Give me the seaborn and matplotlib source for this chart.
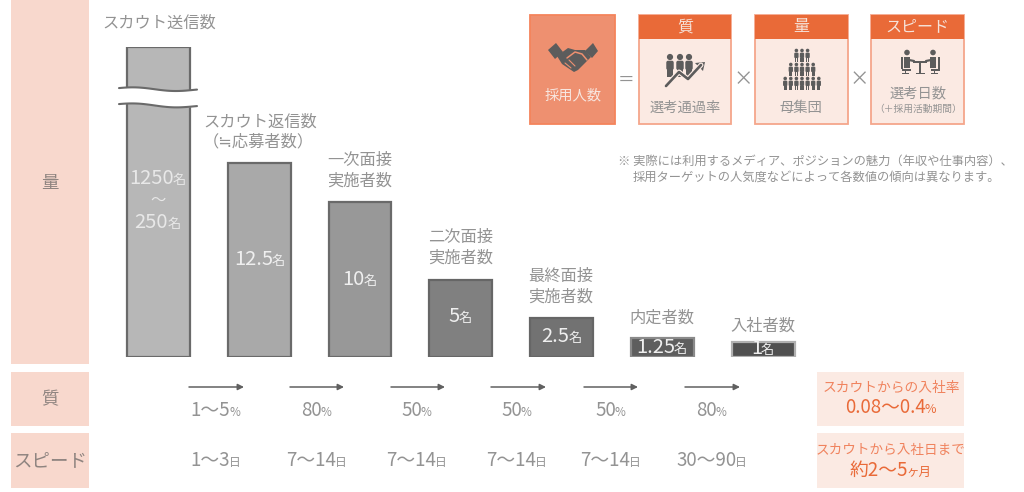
import numpy as np
import pandas as pd
import matplotlib.pyplot as plt
import seaborn as sns
from matplotlib.patches import Rectangle, Circle, Polygon, FancyBboxPatch

sns.set_theme(style="white")
plt.rcParams["font.family"] = ["Noto Sans CJK JP", "DejaVu Sans"]

# data
stages = ["スカウト送信数", "スカウト返信数", "一次面接", "二次面接", "最終面接", "内定者数", "入社者数"]
# first bar is cut by the break mark, so 20 is only its drawn height
bar_heights = [20.0, 12.5, 10.0, 5.0, 2.5, 1.25, 1.0]
bar_colors = ["#b7b7b7", "#a9a9a9", "#989898", "#808080", "#727272", "#5e5e5e", "#505050"]
edge_colors = ["#6a6a6a", "#6a6a6a", "#6a6a6a", "#666666", "#666666", "#8a8a8a", "#b0b0b0"]
value_labels = ["12.5", "10", "5", "2.5", "1.25", "1"]
pass_rates = ["1〜5", "80", "50", "50", "50", "80"]
lead_days = ["1〜3", "7〜14", "7〜14", "7〜14", "7〜14", "30〜90"]

GRAY = "#939393"
DARK = "#5c5c5c"
ORANGE = "#e96a38"
SOFT = "#fbeae3"
TEXT_DY = 1.8  # CJK glyphs sit a little high with va=center

fig = plt.figure(figsize=(10.24, 4.92), dpi=100)

# ==========================
# BARS
# ==========================
bar_left, bar_right, bar_base, bar_top = 108.1, 813.4, 357.0, 47.0
ax = fig.add_axes([bar_left / 1024, 1 - bar_base / 492,
                   (bar_right - bar_left) / 1024, (bar_base - bar_top) / 492])
df = pd.DataFrame({"stage": stages, "height": bar_heights})
sns.barplot(data=df, x="stage", y="height", hue="stage", palette=bar_colors,
            width=0.625, legend=False, ax=ax, saturation=1)
for patch, edge in zip(ax.patches, edge_colors):
    patch.set_edgecolor(edge)
    patch.set_linewidth(1.6)
ax.set_xlim(-0.5, 6.5)
ax.set_ylim(0, 20)
ax.axis("off")

# ==========================
# OVERLAY IN PIXEL COORDS
# ==========================
ov = fig.add_axes([0, 0, 1, 1], zorder=5)
ov.set_xlim(0, 1024)
ov.set_ylim(492, 0)
ov.axis("off")
ov.patch.set_alpha(0)


def label(x, y, s, size=11.7, color=GRAY, **kw):
    return ov.text(x, y + TEXT_DY, s, fontsize=size, color=color, ha="center", va="center", **kw)


def mixed(x, y, big, small, size=14.5, small_size=9.5, color=GRAY):
    # number with a smaller unit after it, centred as one piece
    r = fig.canvas.get_renderer()
    t1 = ov.text(x, y + TEXT_DY, big, fontsize=size, color=color, ha="left", va="center")
    t2 = ov.text(x, y + TEXT_DY + 1.5, small, fontsize=small_size, color=color, ha="left", va="center")
    w1 = t1.get_window_extent(r).width
    w2 = t2.get_window_extent(r).width
    t1.set_x(x - (w1 + w2) / 2)
    t2.set_x(x - (w1 + w2) / 2 + w1 - 1)


def box(x0, y0, x1, y1, fc, ec="none", lw=0):
    ov.add_patch(Rectangle((x0, y0), x1 - x0, y1 - y0, fc=fc, ec=ec, lw=lw))


def person(x, y, s=1.0, color=DARK):
    ov.add_patch(Circle((x, y), 2.0 * s, fc=color, ec="none"))
    ov.add_patch(FancyBboxPatch((x - 2.4 * s, y + 2.4 * s), 4.8 * s, 6.0 * s,
                                boxstyle=f"round,pad=0,rounding_size={1.2 * s}",
                                fc=color, ec="none"))
    ov.add_patch(Rectangle((x - 1.8 * s, y + 8 * s), 1.6 * s, 4.8 * s, fc=color, ec="none"))
    ov.add_patch(Rectangle((x + 0.2 * s, y + 8 * s), 1.6 * s, 4.8 * s, fc=color, ec="none"))


# left and right bands
box(11, 0, 89, 364, "#f8d8cd")
box(11, 372, 89, 426, "#f8d8cd")
box(11, 433, 89, 488, "#f8d8cd")
label(50, 181, "量", 12.5, "#8f8480")
label(50, 397, "質", 12.5, "#8f8480")
label(50, 459, "スピード", 13.3, "#8f8480")
box(817, 372, 964, 426, SOFT)
box(817, 433, 964, 488, SOFT)
label(891, 386, "スカウトからの入社率", 9.9, "#f0835e")
mixed(891, 406, "0.08〜0.4", "%", 13.5, 9, ORANGE)
label(891, 448, "スカウトから入社日まで", 9.8, "#f0835e")
mixed(891, 469, "約2〜5", "ヶ月", 13.5, 9, ORANGE)

# break mark on the first bar
xs = np.linspace(119, 197, 60)
wave = 1.8 * np.sin((xs - 119) / 78 * 2 * np.pi + 0.3) * -1
upper = 88.5 + (xs - 119) / 78 * 1.5 + wave * 0.8
lower = 104.5 + (xs - 119) / 78 * 2 + wave * 0.8
ov.fill_between(xs, upper, lower, color="white", lw=0)
ov.plot(xs, upper, color="#6a6a6a", lw=1.5)
ov.plot(xs, lower, color="#6a6a6a", lw=1.5)

# stage titles
label(159, 21, "スカウト送信数")
label(260, 120, "スカウト返信数")
label(258, 140, "（≒応募者数）")
label(360, 159, "一次面接")
label(360, 179, "実施者数")
label(461, 236, "二次面接")
label(461, 256, "実施者数")
label(561, 275, "最終面接")
label(561, 295, "実施者数")
label(662, 316, "内定者数")
label(763, 324, "入社者数")

# values inside the bars
mixed(158, 177, "1250", "名", color="#e8e8e8")
label(158, 199, "〜", 11, "#e8e8e8")
mixed(158, 221, "250", "名", color="#e8e8e8")
value_y = [258, 278, 315, 335, 346, 347]
value_x = [260, 360, 461, 562, 662, 763]
for x, y, v in zip(value_x, value_y, value_labels):
    mixed(x, y, v, "名", color="#efefef")

# arrows and rates under the bars
arrow_x = [(189, 244), (290, 344), (391, 445), (491, 546), (584, 638), (685, 740)]
text_x = [216, 317, 417, 517, 611, 712]
for (x0, x1), tx, rate, days in zip(arrow_x, text_x, pass_rates, lead_days):
    ov.annotate("", xy=(x1, 387), xytext=(x0, 387),
                arrowprops=dict(arrowstyle="-|>", color="#606060", lw=1.1,
                                shrinkA=0, shrinkB=0, mutation_scale=9))
    mixed(tx, 409, rate, "%", 13.5, 8.5)
    mixed(tx, 459, days, "日", 13.5, 8.5)

# ==========================
# FORMULA BOXES
# ==========================
box(530, 15, 615, 124, "#ee9070", "#f4845c", 1.3)
for x0, x1, head, size in [(639, 731, "質", 11.5), (755, 848, "量", 11.5), (871, 964, "スピード", 11.5)]:
    box(x0, 15, x1, 124, SOFT, "#f5a68b", 1.3)
    box(x0, 15, x1, 39, ORANGE)
    label((x0 + x1) / 2, 25, head, size, "#f6e3da")

label(626, 79, "＝", 12)
label(743, 78, "×", 14)
label(859, 78, "×", 14)
label(573, 94, "採用人数", 10.3, "#f8e6df")
label(685, 106, "選考通過率", 10.3)
label(801, 106, "母集団", 10.3)
label(918, 92, "選考日数", 10.3)
label(918, 107, "（＋採用活動期間）", 7)

note = ("※ 実際には利用するメディア、ポジションの魅力（年収や仕事内容）、",
        "採用ターゲットの人気度などによって各数値の傾向は異なります。")
ov.text(618, 161, note[0], fontsize=8.85, color=GRAY, ha="left", va="center")
ov.text(633, 177, note[1], fontsize=8.85, color=GRAY, ha="left", va="center")

# handshake icon
ov.add_patch(Polygon([(548, 50), (556, 43), (563, 52), (555, 59)], fc=DARK, ec="none"))
ov.add_patch(Polygon([(585, 51), (593, 43), (598, 51), (592, 58)], fc=DARK, ec="none"))
ov.add_patch(Polygon([(557, 56), (568, 48), (575, 50), (585, 50), (591, 57), (578, 70),
                      (574, 72), (568, 68), (562, 64)], fc=DARK, ec="none"))
ov.plot([567, 575, 582, 587], [58, 52, 54, 60], color="#ee9070", lw=1.1)
ov.plot([565, 571], [63, 68], color="#ee9070", lw=0.8)
ov.plot([569, 575], [60, 66], color="#ee9070", lw=0.8)

# quality icon
for px in [670, 680, 689]:
    person(px, 57, 1.55)
ov.plot([666, 679, 688, 701], [86, 72, 79, 65], color="#fbeae3", lw=3.6)
ov.plot([666, 679, 688, 701], [86, 72, 79, 65], color=DARK, lw=1.9)
ov.add_patch(Polygon([(705, 62), (695, 63), (703, 71)], fc=DARK, ec="none"))

# volume icon
for y, n in [(50.5, 3), (64.5, 5), (78.5, 7)]:
    for i in range(n):
        person(802 + (i - (n - 1) / 2) * 5.6, y, 0.9)

# speed icon
for px, sgn in [(907, -1), (933, 1)]:
    ov.add_patch(Circle((px, 52.5), 2.8, fc=DARK, ec="none"))
    ov.add_patch(Rectangle((px - 3.2, 56.5), 6.4, 11, fc=DARK, ec="none"))
    ov.add_patch(Rectangle((px + sgn * 5.5 - 1, 57), 2.2, 12, fc=DARK, ec="none"))
    ov.add_patch(Rectangle((px - 4 + sgn * 1.5, 68.5), 9, 2.4, fc=DARK, ec="none"))
    ov.add_patch(Rectangle((px + sgn * 1.5 - 0.7, 70), 1.6, 3.5, fc=DARK, ec="none"))
    ov.add_patch(Rectangle((px + sgn * 1.5 - 3.5, 73), 7, 1.3, fc=DARK, ec="none"))
    ov.plot([px - sgn * 2, px - sgn * 7], [60, 61], color=DARK, lw=1.6)
ov.add_patch(Rectangle((913, 61), 14, 1.8, fc=DARK, ec="none"))
ov.add_patch(Rectangle((919, 61), 1.9, 12, fc=DARK, ec="none"))
ov.add_patch(Rectangle((915.5, 73), 9, 1.4, fc=DARK, ec="none"))

fig.savefig("out.png", dpi=100)
plt.close()
